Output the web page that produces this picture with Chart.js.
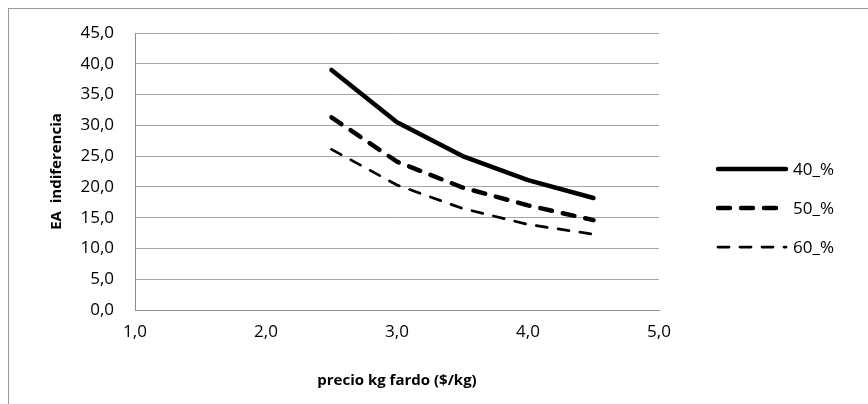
<!DOCTYPE html>
<html>
<head>
<meta charset="UTF-8">
<title>EA indiferencia</title>
<style>
  html, body { margin: 0; padding: 0; background: #fff; overflow: hidden; }
  #wrap { position: relative; width: 868px; height: 404px; }
  #frame { position: absolute; left: 8px; top: 8px; width: 900px; height: 500px; border: 1px solid #9a9a9a; }
  canvas { position: absolute; left: 0; top: 0; }
</style>
</head>
<body>
<div id="wrap">
  <div id="frame"></div>
  <canvas id="myChart" width="868" height="404"></canvas>
</div>
<script src="https://cdn.jsdelivr.net/npm/chart.js"></script>
<script>
// data
const precios = [2.5, 3.0, 3.5, 4.0, 4.5];
const ea40 = [39.0, 30.5, 25.0, 21.1, 18.2];
const ea50 = [31.3, 24.1, 19.9, 17.0, 14.6];
const ea60 = [26.1, 20.3, 16.5, 13.9, 12.3];
const seriesNames = ['40_%', '50_%', '60_%'];
const xTicks = [1, 2, 3, 4, 5];
const yTicks = [0, 5, 10, 15, 20, 25, 30, 35, 40, 45];

const fontName = '"Open Sans", "Liberation Sans", sans-serif';
const coma = v => v.toFixed(1).replace('.', ',');

function pts(ys) {
  return precios.map((x, i) => ({ x: x, y: ys[i] }));
}

// legend drawn by hand, using each dataset's own line style
const sideLegend = {
  id: 'sideLegend',
  afterDraw(chart) {
    const ctx = chart.ctx;
    const rows = [169, 208, 247];
    chart.data.datasets.forEach((ds, i) => {
      const y = rows[i];
      ctx.save();
      ctx.strokeStyle = ds.borderColor;
      ctx.lineWidth = ds.borderWidth;
      ctx.lineCap = 'round';
      ctx.setLineDash(ds.borderDash || []);
      ctx.beginPath();
      ctx.moveTo(718, y);
      ctx.lineTo(786, y);
      ctx.stroke();
      ctx.restore();
      ctx.fillStyle = '#000';
      ctx.font = '17px ' + fontName;
      ctx.textBaseline = 'middle';
      ctx.fillText(ds.label, 793, y + 1);
    });
  }
};

const data = {
  datasets: [
    { label: seriesNames[0], data: pts(ea40), borderColor: '#000', borderWidth: 4.5, borderDash: [] },
    { label: seriesNames[1], data: pts(ea50), borderColor: '#000', borderWidth: 4.5, borderDash: [12, 11] },
    { label: seriesNames[2], data: pts(ea60), borderColor: '#000', borderWidth: 2.75, borderDash: [11, 11] }
  ]
};
data.datasets.forEach(ds => {
  ds.showLine = true;
  ds.pointRadius = 0;
  ds.tension = 0;
  ds.borderCapStyle = 'round';
  ds.borderJoinStyle = 'round';
  ds.fill = false;
});

const config = {
  type: 'scatter',
  data,
  options: {
    responsive: false,
    animation: false,
    layout: { padding: { left: 0, right: 209, top: 33, bottom: 0 } },
    plugins: { legend: { display: false }, tooltip: { enabled: false } },
    scales: {
      x: {
        type: 'linear',
        min: 1, max: 5,
        afterBuildTicks: s => { s.ticks = xTicks.map(v => ({ value: v })); },
        afterFit: s => { s.height = 94; },
        grid: { display: false, drawTicks: false },
        border: { display: true, color: '#8c8c8c', width: 1 },
        ticks: { padding: 12, color: '#000', font: { family: fontName, size: 17 }, callback: v => coma(v), maxRotation: 0 },
        title: { display: true, text: 'precio kg fardo ($/kg)', color: '#000', font: { family: fontName, size: 15, weight: 'bold' }, padding: { top: 0, bottom: 14 } }
      },
      y: {
        min: 0, max: 45,
        afterBuildTicks: s => { s.ticks = yTicks.map(v => ({ value: v })); },
        afterFit: s => { s.width = 135; },
        grid: { color: '#a6a6a6', lineWidth: 1, drawTicks: false },
        border: { display: true, color: '#8c8c8c', width: 1 },
        ticks: { padding: 21, color: '#000', font: { family: fontName, size: 17 }, callback: v => coma(v) },
        title: { display: true, text: 'EA  indiferencia', color: '#000', font: { family: fontName, size: 15, weight: 'bold' }, padding: { top: 48, bottom: 0 } }
      }
    }
  },
  plugins: [sideLegend]
};

const myChart = new Chart(document.getElementById('myChart'), config);
</script>
</body>
</html>
